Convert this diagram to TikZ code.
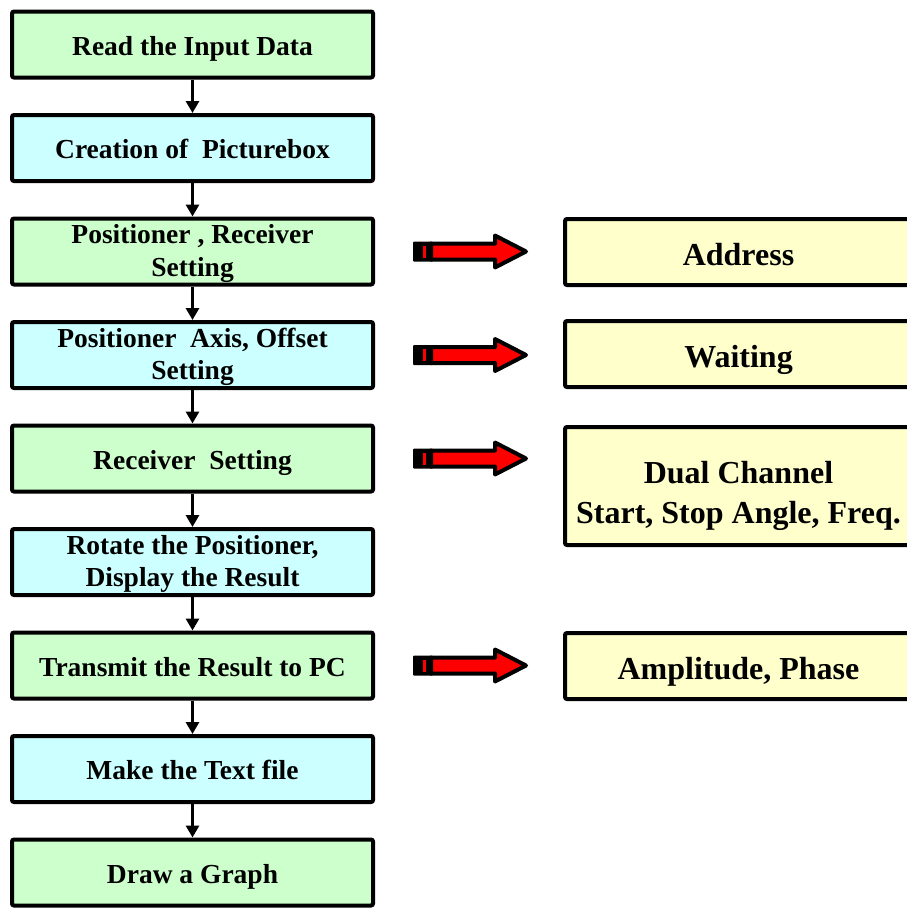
\documentclass[tikz,border=0pt]{standalone}
\usepackage{fontspec}
\setmainfont{Liberation Serif}
\definecolor{stepgreen}{RGB}{204,255,204}
\definecolor{stepcyan}{RGB}{204,255,255}
\definecolor{noteyellow}{RGB}{255,255,204}
\newcommand{\topgap}[1]{\rule{0pt}{#1}}
\usepackage{tikz}
\usetikzlibrary{
  arrows.meta,
  positioning,
  calc
}

\begin{document}
\begin{tikzpicture}[
  x=1pt, y=-1pt,
  pad/.style 2 args={execute at begin node={\rule{0pt}{#1pt}}, execute at end node={\rule[-#2pt]{0pt}{#2pt}}},
  stepbox/.style={rectangle, draw=black, line width=4pt, rounded corners=2pt, minimum width=361pt, minimum height=66pt, font=\fontsize{27.5}{32.6}\selectfont\bfseries, align=center, inner sep=0pt, pad={29}{8}},
  greenbox/.style={stepbox, fill=stepgreen},
  cyanbox/.style={stepbox, fill=stepcyan},
  notebox/.style={rectangle, draw=black, line width=4pt, rounded corners=2pt, fill=noteyellow, minimum width=347pt, minimum height=66pt, font=\fontsize{32}{39.3}\selectfont\bfseries, align=center, inner sep=0pt, pad={36}{9}},
  arr/.style={-{Triangle[width=13pt,length=12pt]}, line width=3.5pt, black},
  redarrow/.pic={
    \fill[black, rounded corners=1pt] (-56,-10) rectangle (-36,10);
    \fill[red] (-46.5,-6) rectangle (-43,6);
    \filldraw[fill=red, draw=black, line width=4pt, line join=round] (-38,-8) -- (26,-8) -- (26,-16) -- (57,0) -- (26,16) -- (26,8) -- (-38,8) -- cycle;
  }
]
  \useasboundingbox (0,0) rectangle (907,908);

  % main steps
  \node[greenbox] (read) at (192.5,44.5) {Read the Input Data};
  \node[cyanbox] (pbox) at (192.5,148) {Creation of~ Picturebox};
  \node[greenbox] (prset) at (192.5,251.5) {\topgap{25pt}Positioner , Receiver\\Setting};
  \node[cyanbox] (axis) at (192.5,355) {\topgap{25pt}Positioner~ Axis, Offset\\Setting};
  \node[greenbox] (recv) at (192.5,458.5) {Receiver~ Setting};
  \node[cyanbox] (rot) at (192.5,562) {\topgap{25pt}Rotate the Positioner,\\Display the Result};
  \node[greenbox] (send) at (192.5,665.5) {Transmit the Result to PC};
  \node[cyanbox] (text) at (192.5,769) {Make the Text file};
  \node[greenbox] (graph) at (192.5,872.5) {Draw a Graph};

  % notes
  \node[notebox] (addr) at (738.5,252) {Address};
  \node[notebox] (wait) at (738.5,354) {Waiting};
  \node[notebox, minimum height=118pt] (dual) at (738.5,486) {\topgap{44pt}Dual Channel\\Start, Stop Angle, Freq.};
  \node[notebox] (amp) at (738.5,666) {Amplitude, Phase};

  \draw[arr] (read) -- (pbox);
  \draw[arr] (pbox) -- (prset);
  \draw[arr] (prset) -- (axis);
  \draw[arr] (axis) -- (recv);
  \draw[arr] (recv) -- (rot);
  \draw[arr] (rot) -- (send);
  \draw[arr] (send) -- (text);
  \draw[arr] (text) -- (graph);

  \pic at ($(prset.east)!0.5!(prset.east -| addr.west)$) {redarrow};
  \pic at ($(axis.east)!0.5!(axis.east -| wait.west)$) {redarrow};
  \pic at ($(recv.east)!0.5!(recv.east -| dual.west)$) {redarrow};
  \pic at ($(send.east)!0.5!(send.east -| amp.west)$) {redarrow};
\end{tikzpicture}
\end{document}
